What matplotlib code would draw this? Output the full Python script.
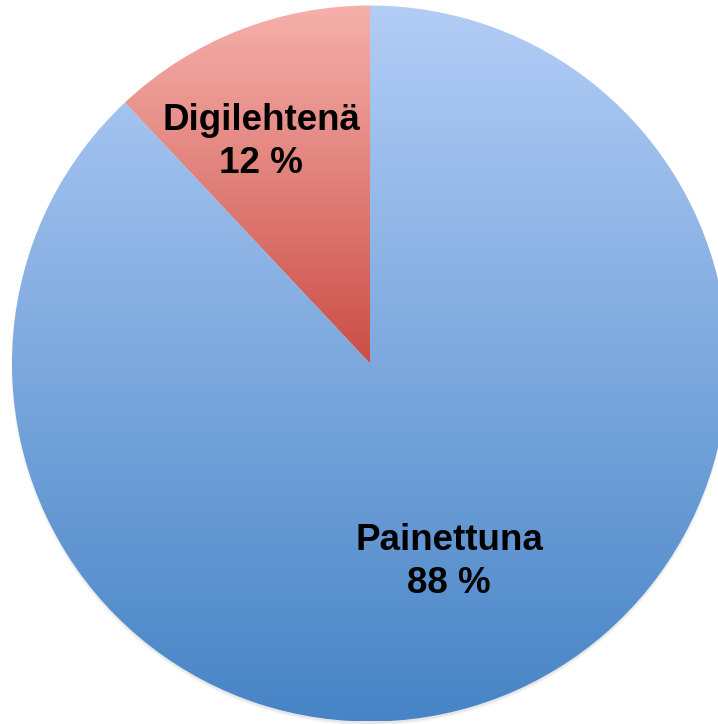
import numpy as np
import matplotlib
matplotlib.use("Agg")
import matplotlib.pyplot as plt
from matplotlib.colors import LinearSegmentedColormap
from matplotlib.patches import Circle

labels = ["Digilehtenä", "Painettuna"]
values = [12, 88]
top_colors = ["#f6b0ab", "#b2cdf6"]
bottom_colors = ["#cb4e46", "#4784c6"]

W, H = 718, 724
cx, cy, r = 370, H - 363.5, 358

fig = plt.figure(figsize=(W / 100, H / 100), dpi=100)
ax = fig.add_axes([0, 0, 1, 1])
ax.set_xlim(0, W)
ax.set_ylim(0, H)
ax.set_aspect("equal")
ax.axis("off")

# soft shadow under the pie, mostly at the bottom
for i, a in enumerate([0.04, 0.05, 0.06]):
    ax.add_patch(Circle((cx, cy - 3), r + 1 - i, color="0.3", alpha=a, lw=0, zorder=0))

wedges, _ = ax.pie(values, startangle=90, counterclock=True, center=(cx, cy),
                   radius=r, wedgeprops=dict(lw=0))
ax.set_xlim(0, W)
ax.set_ylim(0, H)

grad = np.linspace(0, 1, 256).reshape(-1, 1)
for w, c0, c1 in zip(wedges, top_colors, bottom_colors):
    w.set_facecolor("none")
    cmap = LinearSegmentedColormap.from_list("g", [c0, c1])
    bb = w.get_path().get_extents(w.get_transform()).transformed(ax.transData.inverted())
    im = ax.imshow(grad, cmap=cmap, aspect="auto", origin="upper",
                   extent=[bb.x0, bb.x1, bb.y0, bb.y1], zorder=1)
    im.set_clip_path(w)

font = dict(family=["Liberation Sans", "DejaVu Sans"], fontweight="bold",
            fontsize=26.5, ha="center", va="center", linespacing=1.3, zorder=3)
ax.text(261, H - 142, f"{labels[0]}\n{values[0]} %", **font)
ax.text(449, H - 562, f"{labels[1]}\n{values[1]} %", **font)

fig.savefig("out.png", dpi=100, facecolor="white")
